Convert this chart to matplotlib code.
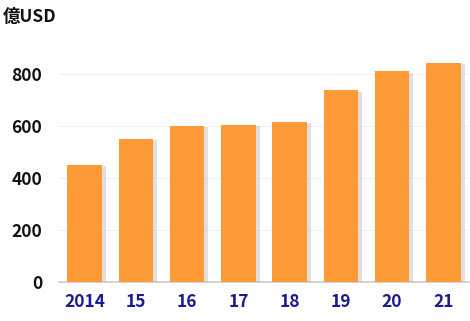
import matplotlib
matplotlib.use("Agg")
import matplotlib.pyplot as plt
import matplotlib.patheffects as pe

plt.rcParams['font.family'] = ['Noto Sans CJK JP', 'DejaVu Sans']

years = ["2014", "15", "16", "17", "18", "19", "20", "21"]
values = [450, 550, 600, 604, 615, 738, 811, 842]
yticks = [0, 200, 400, 600, 800]

fig = plt.figure(figsize=(4.7, 3.21), dpi=100)
ax = fig.add_axes([59/470, 39/321, 410/470, 234/321])

bars = ax.bar(range(len(years)), values, width=0.67, color='#FE9A37', zorder=3,
              path_effects=[pe.SimplePatchShadow(offset=(3, -1), shadow_rgbFace='#999999', alpha=0.3), pe.Normal()])

ax.set_xlim(-0.5, len(years) - 0.5)
ax.set_ylim(0, 900)
ax.set_yticks(yticks)
ax.set_yticklabels([str(v) for v in yticks], fontsize=12.5, fontweight='bold', color='#111111')
ax.set_xticks(range(len(years)))
ax.set_xticklabels(years, fontsize=12.5, fontweight='bold', color='#1B1B8F')
ax.tick_params(axis='both', length=0)
ax.tick_params(axis='y', pad=12)
ax.tick_params(axis='x', pad=8)

for s in ['top', 'right', 'left']:
    ax.spines[s].set_visible(False)
ax.spines['bottom'].set_color('#CCCCCC')
ax.spines['bottom'].set_linewidth(1.2)
ax.grid(axis='y', color='#F2F2F2', linewidth=0.8, zorder=0)

fig.text(3/470, 1 - 17/321, "億USD", fontsize=12.5, fontweight='bold', color='#111111', va='center', ha='left')

fig.savefig("out.png", dpi=100)
